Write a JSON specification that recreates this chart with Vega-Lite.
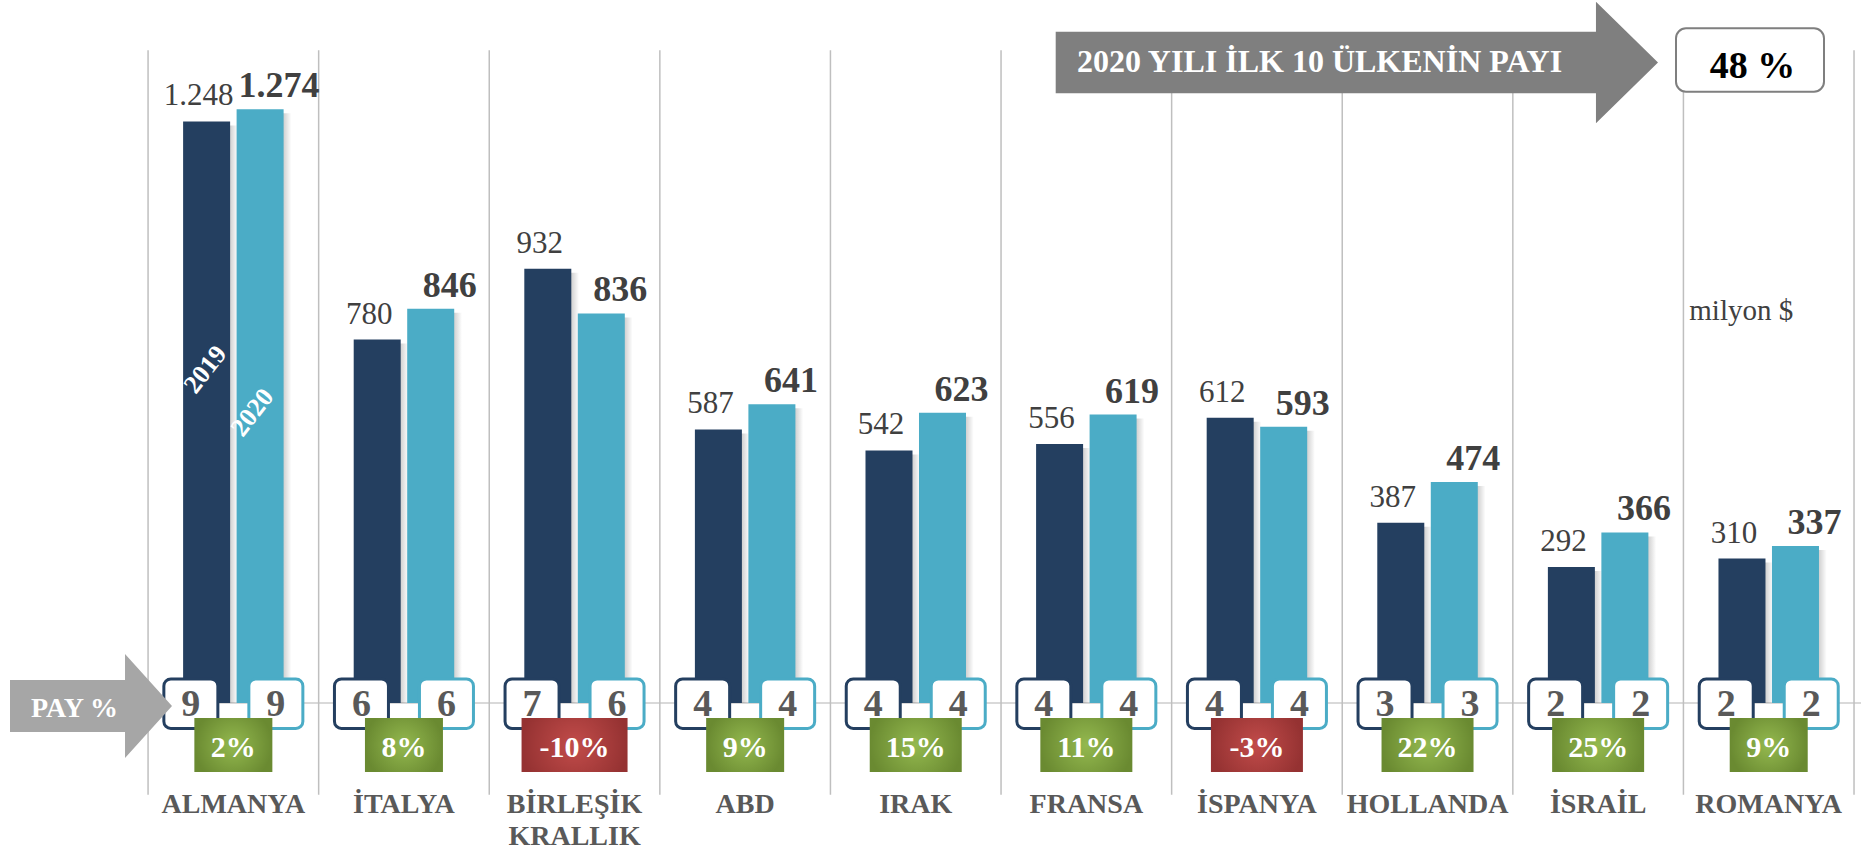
{
  "$schema": "https://vega.github.io/schema/vega-lite/v6.json",
  "width": 1861,
  "height": 850,
  "autosize": {"type": "none"},
  "padding": 0,
  "background": "white",
  "config": {
    "view": {"stroke": null},
    "font": "Liberation Serif, Times New Roman, DejaVu Serif, serif",
    "text": {"font": "Liberation Serif, Times New Roman, DejaVu Serif, serif"},
    "locale": {"number": {"decimal": ",", "thousands": ".", "grouping": [3], "currency": ["", " $"], "minus": "-", "percent": "%"}}
  },
  "data": {"values": [
    {"country": "ALMANYA", "year": "2019", "value": 1248, "share": 9, "chg": 0.02},
    {"country": "ALMANYA", "year": "2020", "value": 1274, "share": 9, "chg": 0.02},
    {"country": "İTALYA", "year": "2019", "value": 780, "share": 6, "chg": 0.08},
    {"country": "İTALYA", "year": "2020", "value": 846, "share": 6, "chg": 0.08},
    {"country": "BİRLEŞİK KRALLIK", "year": "2019", "value": 932, "share": 7, "chg": -0.10},
    {"country": "BİRLEŞİK KRALLIK", "year": "2020", "value": 836, "share": 6, "chg": -0.10},
    {"country": "ABD", "year": "2019", "value": 587, "share": 4, "chg": 0.09},
    {"country": "ABD", "year": "2020", "value": 641, "share": 4, "chg": 0.09},
    {"country": "IRAK", "year": "2019", "value": 542, "share": 4, "chg": 0.15},
    {"country": "IRAK", "year": "2020", "value": 623, "share": 4, "chg": 0.15},
    {"country": "FRANSA", "year": "2019", "value": 556, "share": 4, "chg": 0.11},
    {"country": "FRANSA", "year": "2020", "value": 619, "share": 4, "chg": 0.11},
    {"country": "İSPANYA", "year": "2019", "value": 612, "share": 4, "chg": -0.03},
    {"country": "İSPANYA", "year": "2020", "value": 593, "share": 4, "chg": -0.03},
    {"country": "HOLLANDA", "year": "2019", "value": 387, "share": 3, "chg": 0.22},
    {"country": "HOLLANDA", "year": "2020", "value": 474, "share": 3, "chg": 0.22},
    {"country": "İSRAİL", "year": "2019", "value": 292, "share": 2, "chg": 0.25},
    {"country": "İSRAİL", "year": "2020", "value": 366, "share": 2, "chg": 0.25},
    {"country": "ROMANYA", "year": "2019", "value": 310, "share": 2, "chg": 0.09},
    {"country": "ROMANYA", "year": "2020", "value": 337, "share": 2, "chg": 0.09}
  ]},
  "resolve": {"scale": {"x": "independent"}},
  "layer": [
    {
      "data": {"values": [{}]},
      "mark": {"type": "rule", "color": "#D9D9D9", "strokeWidth": 2},
      "encoding": {
        "x": {"datum": 172, "type": "quantitative", "scale": {"domain": [0, 1861], "nice": false, "zero": false}, "axis": null},
        "x2": {"datum": 1861},
        "y": {"datum": 0, "type": "quantitative", "scale": {"domain": [-315.5, 1508.6], "nice": false, "zero": false}, "axis": null}
      }
    },
    {
      "encoding": {
        "x": {"field": "country", "type": "nominal", "axis": null,
              "scale": {"domain": ["ALMANYA", "İTALYA", "BİRLEŞİK KRALLIK", "ABD", "IRAK", "FRANSA", "İSPANYA", "HOLLANDA", "İSRAİL", "ROMANYA"], "paddingInner": 0, "paddingOuter": 0.4544, "align": 0.955}}
      },
      "layer": [
        {
          "transform": [{"filter": "datum.year == '2020'"}],
          "mark": {"type": "rule", "color": "#BFBFBF", "strokeWidth": 1.5},
          "encoding": {
            "x": {"field": "country", "type": "nominal", "bandPosition": 0, "axis": null,
                  "scale": {"domain": ["ALMANYA", "İTALYA", "BİRLEŞİK KRALLIK", "ABD", "IRAK", "FRANSA", "İSPANYA", "HOLLANDA", "İSRAİL", "ROMANYA"], "paddingInner": 0, "paddingOuter": 0.4544, "align": 0.955}},
            "y": {"datum": 1401, "type": "quantitative", "scale": {"domain": [-315.5, 1508.6], "nice": false, "zero": false}, "axis": null},
            "y2": {"datum": -197}
          }
        },
        {
          "transform": [{"filter": "datum.year == '2020' && datum.country == 'ROMANYA'"}],
          "mark": {"type": "rule", "color": "#BFBFBF", "strokeWidth": 1.5},
          "encoding": {
            "x": {"field": "country", "type": "nominal", "bandPosition": 1, "axis": null,
                  "scale": {"domain": ["ALMANYA", "İTALYA", "BİRLEŞİK KRALLIK", "ABD", "IRAK", "FRANSA", "İSPANYA", "HOLLANDA", "İSRAİL", "ROMANYA"], "paddingInner": 0, "paddingOuter": 0.4544, "align": 0.955}},
            "y": {"datum": 1401, "type": "quantitative", "scale": {"domain": [-315.5, 1508.6], "nice": false, "zero": false}, "axis": null},
            "y2": {"datum": -197}
          }
        },
        {
          "transform": [{"filter": "datum.year == '2019'"}],
          "mark": {"type": "bar", "width": 47, "xOffset": -19, "yOffset": 4,
                   "fill": {"gradient": "linear", "x1": 0, "y1": 0, "x2": 1, "y2": 0, "stops": [{"offset": 0, "color": "rgba(0,0,0,0.3)"}, {"offset": 0.8, "color": "rgba(0,0,0,0.22)"}, {"offset": 1, "color": "rgba(0,0,0,0)"}]}},
          "encoding": {
            "y": {"field": "value", "type": "quantitative", "scale": {"domain": [-315.5, 1508.6], "nice": false, "zero": false}, "axis": null},
            "y2": {"datum": 0}
          }
        },
        {
          "transform": [{"filter": "datum.year == '2020'"}],
          "mark": {"type": "bar", "width": 47, "xOffset": 34.5, "yOffset": 4,
                   "fill": {"gradient": "linear", "x1": 0, "y1": 0, "x2": 1, "y2": 0, "stops": [{"offset": 0, "color": "rgba(0,0,0,0.3)"}, {"offset": 0.8, "color": "rgba(0,0,0,0.22)"}, {"offset": 1, "color": "rgba(0,0,0,0)"}]}},
          "encoding": {
            "y": {"field": "value", "type": "quantitative", "scale": {"domain": [-315.5, 1508.6], "nice": false, "zero": false}, "axis": null},
            "y2": {"datum": 0}
          }
        },
        {
          "transform": [{"filter": "datum.year == '2019'"}],
          "mark": {"type": "bar", "width": 47, "xOffset": -26.75, "fill": "#243F60"},
          "encoding": {
            "y": {"field": "value", "type": "quantitative", "scale": {"domain": [-315.5, 1508.6], "nice": false, "zero": false}, "axis": null},
            "y2": {"datum": 0}
          }
        },
        {
          "transform": [{"filter": "datum.year == '2020'"}],
          "mark": {"type": "bar", "width": 47, "xOffset": 26.75, "fill": "#4BACC6"},
          "encoding": {
            "y": {"field": "value", "type": "quantitative", "scale": {"domain": [-315.5, 1508.6], "nice": false, "zero": false}, "axis": null},
            "y2": {"datum": 0}
          }
        },
        {
          "transform": [{"filter": "datum.year == '2019'"}],
          "mark": {"type": "text", "font": "Liberation Serif, Times New Roman, DejaVu Serif, serif", "fontWeight": "normal", "dx": -34.75, "dy": -16, "fontSize": 31, "color": "#404040", "align": "center", "baseline": "alphabetic"},
          "encoding": {
            "y": {"field": "value", "type": "quantitative", "scale": {"domain": [-315.5, 1508.6], "nice": false, "zero": false}, "axis": null},
            "text": {"field": "value", "type": "quantitative", "format": ",d"}
          }
        },
        {
          "transform": [{"filter": "datum.year == '2020'"}],
          "mark": {"type": "text", "dx": 45.75, "dy": -12, "fontSize": 36, "fontWeight": "bold", "color": "#404040", "align": "center", "baseline": "alphabetic"},
          "encoding": {
            "y": {"field": "value", "type": "quantitative", "scale": {"domain": [-315.5, 1508.6], "nice": false, "zero": false}, "axis": null},
            "text": {"field": "value", "type": "quantitative", "format": ",d"}
          }
        },
        {
          "transform": [{"filter": "datum.country == 'ALMANYA' && datum.year == '2019'"}],
          "mark": {"type": "text", "angle": 308, "xOffset": -27.8, "fontSize": 26, "fontWeight": "bold", "color": "white", "align": "center", "baseline": "middle"},
          "encoding": {
            "y": {"datum": 715.7, "type": "quantitative", "scale": {"domain": [-315.5, 1508.6], "nice": false, "zero": false}, "axis": null},
            "text": {"field": "year", "type": "nominal"}
          }
        },
        {
          "transform": [{"filter": "datum.country == 'ALMANYA' && datum.year == '2020'"}],
          "mark": {"type": "text", "angle": 308, "xOffset": 19.2, "fontSize": 26, "fontWeight": "bold", "color": "white", "align": "center", "baseline": "middle"},
          "encoding": {
            "y": {"datum": 623.4, "type": "quantitative", "scale": {"domain": [-315.5, 1508.6], "nice": false, "zero": false}, "axis": null},
            "text": {"field": "year", "type": "nominal"}
          }
        },
        {
          "transform": [{"filter": "datum.year == '2019'"}],
          "mark": {"type": "bar", "width": 54, "xOffset": -42.5, "fill": "white", "stroke": "#243F60", "strokeWidth": 3, "cornerRadius": 7},
          "encoding": {
            "y": {"datum": 51.5, "type": "quantitative", "scale": {"domain": [-315.5, 1508.6], "nice": false, "zero": false}, "axis": null},
            "y2": {"datum": -54.7}
          }
        },
        {
          "transform": [{"filter": "datum.year == '2020'"}],
          "mark": {"type": "bar", "width": 54, "xOffset": 42.5, "fill": "white", "stroke": "#4BACC6", "strokeWidth": 3, "cornerRadius": 7},
          "encoding": {
            "y": {"datum": 51.5, "type": "quantitative", "scale": {"domain": [-315.5, 1508.6], "nice": false, "zero": false}, "axis": null},
            "y2": {"datum": -54.7}
          }
        },
        {
          "transform": [{"filter": "datum.year == '2019'"}],
          "mark": {"type": "text", "dx": -42.5, "fontSize": 38, "fontWeight": "bold", "color": "#595959", "align": "center", "baseline": "alphabetic"},
          "encoding": {
            "y": {"datum": -27.9, "type": "quantitative", "scale": {"domain": [-315.5, 1508.6], "nice": false, "zero": false}, "axis": null},
            "text": {"field": "share", "type": "quantitative", "format": "d"}
          }
        },
        {
          "transform": [{"filter": "datum.year == '2020'"}],
          "mark": {"type": "text", "dx": 42.5, "fontSize": 38, "fontWeight": "bold", "color": "#595959", "align": "center", "baseline": "alphabetic"},
          "encoding": {
            "y": {"datum": -27.9, "type": "quantitative", "scale": {"domain": [-315.5, 1508.6], "nice": false, "zero": false}, "axis": null},
            "text": {"field": "share", "type": "quantitative", "format": "d"}
          }
        },
        {
          "transform": [{"filter": "datum.year == '2020' && datum.chg >= 0 && datum.chg < 0.095"}],
          "mark": {"type": "bar", "width": 78},
          "encoding": {
            "y": {"datum": -32.2, "type": "quantitative", "scale": {"domain": [-315.5, 1508.6], "nice": false, "zero": false}, "axis": null},
            "y2": {"datum": -148.1},
            "fill": {"condition": {"test": "datum.chg < 0", "value": {"gradient": "radial", "stops": [{"offset": 0, "color": "#C24C4A"}, {"offset": 1, "color": "#953232"}]}},
                     "value": {"gradient": "radial", "stops": [{"offset": 0, "color": "#94B94F"}, {"offset": 1, "color": "#6A8A31"}]}}
          }
        },
        {
          "transform": [{"filter": "datum.year == '2020' && (datum.chg >= 0.095 || (datum.chg < 0 && datum.chg > -0.095))"}],
          "mark": {"type": "bar", "width": 92},
          "encoding": {
            "y": {"datum": -32.2, "type": "quantitative", "scale": {"domain": [-315.5, 1508.6], "nice": false, "zero": false}, "axis": null},
            "y2": {"datum": -148.1},
            "fill": {"condition": {"test": "datum.chg < 0", "value": {"gradient": "radial", "stops": [{"offset": 0, "color": "#C24C4A"}, {"offset": 1, "color": "#953232"}]}},
                     "value": {"gradient": "radial", "stops": [{"offset": 0, "color": "#94B94F"}, {"offset": 1, "color": "#6A8A31"}]}}
          }
        },
        {
          "transform": [{"filter": "datum.year == '2020' && datum.chg <= -0.095"}],
          "mark": {"type": "bar", "width": 106},
          "encoding": {
            "y": {"datum": -32.2, "type": "quantitative", "scale": {"domain": [-315.5, 1508.6], "nice": false, "zero": false}, "axis": null},
            "y2": {"datum": -148.1},
            "fill": {"condition": {"test": "datum.chg < 0", "value": {"gradient": "radial", "stops": [{"offset": 0, "color": "#C24C4A"}, {"offset": 1, "color": "#953232"}]}},
                     "value": {"gradient": "radial", "stops": [{"offset": 0, "color": "#94B94F"}, {"offset": 1, "color": "#6A8A31"}]}}
          }
        },
        {
          "transform": [{"filter": "datum.year == '2020'"}],
          "mark": {"type": "text", "fontSize": 30, "fontWeight": "bold", "color": "white", "align": "center", "baseline": "alphabetic"},
          "encoding": {
            "y": {"datum": -115.2, "type": "quantitative", "scale": {"domain": [-315.5, 1508.6], "nice": false, "zero": false}, "axis": null},
            "text": {"field": "chg", "type": "quantitative", "format": ".0%"}
          }
        },
        {
          "transform": [{"filter": "datum.year == '2020'"}],
          "mark": {"type": "text", "fontSize": 28, "fontWeight": "bold", "color": "#595959", "align": "center", "baseline": "alphabetic", "lineBreak": " ", "lineHeight": 32},
          "encoding": {
            "y": {"datum": -236, "type": "quantitative", "scale": {"domain": [-315.5, 1508.6], "nice": false, "zero": false}, "axis": null},
            "text": {"field": "country", "type": "nominal"}
          }
        }
      ]
    },
    {
      "encoding": {
        "x": {"datum": 0, "type": "quantitative", "scale": {"domain": [0, 1861], "nice": false, "zero": false}, "axis": null}
      },
      "layer": [
        {
          "data": {"values": [{}]},
          "mark": {"type": "point", "shape": "M-1,-0.321L0.42,-0.321L0.42,-0.642L1,0L0.42,0.642L0.42,0.321L-1,0.321Z", "filled": true, "color": "#A6A6A6", "fill": "#A6A6A6", "opacity": 1, "size": 26244, "strokeWidth": 0},
          "encoding": {
            "x": {"datum": 91, "type": "quantitative", "scale": {"domain": [0, 1861], "nice": false, "zero": false}, "axis": null},
            "y": {"datum": -6.4, "type": "quantitative", "scale": {"domain": [-315.5, 1508.6], "nice": false, "zero": false}, "axis": null}
          }
        },
        {
          "data": {"values": [{}]},
          "mark": {"type": "text", "text": "PAY %", "fontSize": 28, "fontWeight": "bold", "color": "white", "align": "center", "baseline": "alphabetic"},
          "encoding": {
            "x": {"datum": 74.5, "type": "quantitative", "scale": {"domain": [0, 1861], "nice": false, "zero": false}, "axis": null},
            "y": {"datum": -30.7, "type": "quantitative", "scale": {"domain": [-315.5, 1508.6], "nice": false, "zero": false}, "axis": null}
          }
        },
        {
          "data": {"values": [{}]},
          "mark": {"type": "point", "shape": "M-1,-0.1023L0.794,-0.1023L0.794,-0.2016L1,0L0.794,0.2016L0.794,0.1023L-1,0.1023Z", "filled": true, "color": "#7F7F7F", "fill": "#7F7F7F", "opacity": 1, "size": 362765, "strokeWidth": 0},
          "encoding": {
            "x": {"datum": 1356.85, "type": "quantitative", "scale": {"domain": [0, 1861], "nice": false, "zero": false}, "axis": null},
            "y": {"datum": 1374.5, "type": "quantitative", "scale": {"domain": [-315.5, 1508.6], "nice": false, "zero": false}, "axis": null}
          }
        },
        {
          "data": {"values": [{}]},
          "mark": {"type": "text", "text": "2020 YILI İLK 10 ÜLKENİN PAYI", "fontSize": 32, "fontWeight": "bold", "color": "white", "align": "center", "baseline": "alphabetic"},
          "encoding": {
            "x": {"datum": 1319.6, "type": "quantitative", "scale": {"domain": [0, 1861], "nice": false, "zero": false}, "axis": null},
            "y": {"datum": 1354.7, "type": "quantitative", "scale": {"domain": [-315.5, 1508.6], "nice": false, "zero": false}, "axis": null}
          }
        },
        {
          "data": {"values": [{}]},
          "mark": {"type": "rect", "fill": "white", "stroke": "#7F7F7F", "strokeWidth": 2, "cornerRadius": 10},
          "encoding": {
            "x": {"datum": 1676, "type": "quantitative", "scale": {"domain": [0, 1861], "nice": false, "zero": false}, "axis": null},
            "x2": {"datum": 1824},
            "y": {"datum": 1447.9, "type": "quantitative", "scale": {"domain": [-315.5, 1508.6], "nice": false, "zero": false}, "axis": null},
            "y2": {"datum": 1311.8}
          }
        },
        {
          "data": {"values": [{}]},
          "mark": {"type": "text", "text": "48 %", "fontSize": 38, "fontWeight": "bold", "color": "#000000", "align": "center", "baseline": "alphabetic"},
          "encoding": {
            "x": {"datum": 1752.5, "type": "quantitative", "scale": {"domain": [0, 1861], "nice": false, "zero": false}, "axis": null},
            "y": {"datum": 1340.6, "type": "quantitative", "scale": {"domain": [-315.5, 1508.6], "nice": false, "zero": false}, "axis": null}
          }
        },
        {
          "data": {"values": [{}]},
          "mark": {"type": "text", "text": "milyon $", "font": "Liberation Serif, Times New Roman, DejaVu Serif, serif", "fontWeight": "normal", "fontSize": 29, "color": "#404040", "align": "left", "baseline": "alphabetic"},
          "encoding": {
            "x": {"datum": 1689.3, "type": "quantitative", "scale": {"domain": [0, 1861], "nice": false, "zero": false}, "axis": null},
            "y": {"datum": 821.9, "type": "quantitative", "scale": {"domain": [-315.5, 1508.6], "nice": false, "zero": false}, "axis": null}
          }
        }
      ]
    }
  ]
}
